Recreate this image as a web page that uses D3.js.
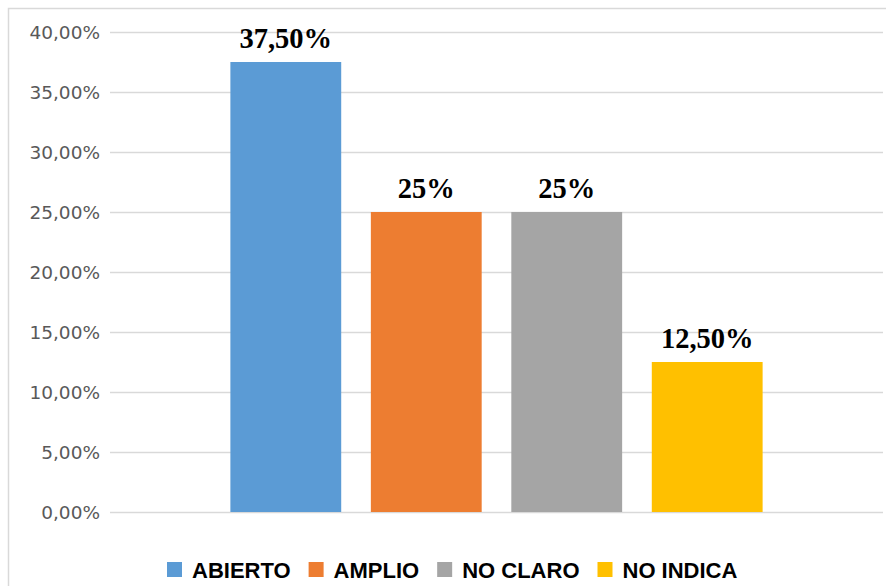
<!DOCTYPE html>
<html>
<head>
<meta charset="utf-8">
<script src="https://cdn.jsdelivr.net/npm/d3@7"></script>
<style>
  html, body { margin: 0; padding: 0; background: #fff; }
  svg { display: block; }
</style>
</head>
<body>
<svg id="chart" width="886" height="586"></svg>
<script>
const series = ["ABIERTO", "AMPLIO", "NO CLARO", "NO INDICA"];
const values = [37.5, 25, 25, 12.5];
const valueLabels = ["37,50%", "25%", "25%", "12,50%"];
const colors = ["#5B9BD5", "#ED7D31", "#A5A5A5", "#FFC000"];
const yTicks = [0, 5, 10, 15, 20, 25, 30, 35, 40];

const svg = d3.select("#chart");
const W = 886, H = 586;
const plot = { left: 110, right: 883, top: 32, bottom: 512 };

// chart border
svg.append("rect")
  .attr("x", 8.5).attr("y", 8.5)
  .attr("width", W + 10).attr("height", H + 10)
  .attr("fill", "#fff").attr("stroke", "#d9d9d9").attr("stroke-width", 1.5);

const y = d3.scaleLinear().domain([0, 40]).range([plot.bottom, plot.top]);
const x = d3.scaleBand().domain(series)
  .range([plot.left, plot.right])
  .paddingInner(0.211).paddingOuter(0.857);

// gridlines
svg.append("g")
  .attr("transform", `translate(${plot.left},0)`)
  .call(d3.axisLeft(y).tickValues(yTicks).tickSize(-(plot.right - plot.left)).tickFormat(""))
  .call(g => g.select(".domain").remove())
  .call(g => g.selectAll("line").attr("stroke", "#d9d9d9").attr("stroke-width", 1.5));

// y axis labels
svg.append("g")
  .attr("transform", `translate(${plot.left - 10},0)`)
  .call(d3.axisLeft(y).tickValues(yTicks).tickSize(0)
    .tickFormat(d => d.toFixed(2).replace(".", ",") + "%"))
  .call(g => g.select(".domain").remove())
  .call(g => g.selectAll("text")
    .attr("font-family", "'DejaVu Sans', Verdana, sans-serif")
    .attr("font-size", "18.5px")
    .attr("fill", "#595959")
    .attr("x", 0)
    .attr("dy", "0.35em"));

// bars
svg.append("g").selectAll("rect")
  .data(series)
  .join("rect")
  .attr("x", d => x(d))
  .attr("width", x.bandwidth())
  .attr("y", (d, i) => y(values[i]))
  .attr("height", (d, i) => y(0) - y(values[i]))
  .attr("fill", (d, i) => colors[i]);

// data labels
svg.append("g").selectAll("text")
  .data(series)
  .join("text")
  .attr("x", d => x(d) + x.bandwidth() / 2)
  .attr("y", (d, i) => y(values[i]) - 14)
  .attr("text-anchor", "middle")
  .attr("font-family", "'Liberation Serif', 'Times New Roman', serif")
  .attr("font-weight", "bold")
  .attr("font-size", "28.5px")
  .attr("fill", "#000")
  .text((d, i) => valueLabels[i]);

// legend
const legend = svg.append("g").attr("transform", "translate(0,570)");
let lx = 167;
series.forEach((s, i) => {
  const item = legend.append("g").attr("transform", `translate(${lx},0)`);
  item.append("rect").attr("x", 0).attr("y", -8).attr("width", 15).attr("height", 15).attr("fill", colors[i]);
  const t = item.append("text")
    .attr("x", 25).attr("y", 0).attr("dy", "0.35em")
    .attr("font-family", "'Liberation Sans', Arial, sans-serif")
    .attr("font-weight", "bold")
    .attr("font-size", "22px")
    .attr("fill", "#000")
    .text(s);
  const w = t.node().getComputedTextLength();
  lx += 25 + w + 18;
});
</script>
</body>
</html>
